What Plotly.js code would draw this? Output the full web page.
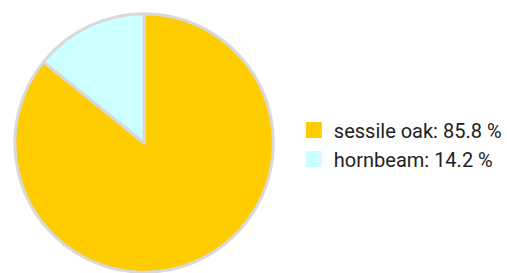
<!DOCTYPE html>
<html><head><meta charset="utf-8">
<script src="https://cdn.plot.ly/plotly-3.0.1.min.js"></script>
<style>html,body{margin:0;padding:0;background:#fff}#c{width:507px;height:273px}</style>
</head><body><div id="c"></div>
<script>
const species = ["sessile oak", "hornbeam"];
const shares = [85.8, 14.2];
const colors = ["#FFCC00", "#CCFFFF"];
const labels = species.map((s, i) => s + ": " + shares[i].toFixed(1) + " %");
const traces = [{
  type: "pie", labels: labels, values: shares, sort: false, direction: "clockwise", rotation: 0,
  marker: {colors: colors, line: {color: "#d9d9d9", width: 3}},
  textinfo: "none", hoverinfo: "none", showlegend: false,
  domain: {x: [15/507, 275/507], y: [0, 260/273]}
}];
// legend entries (proxies with no drawn points)
labels.forEach((l, i) => traces.push({
  type: "scatter", mode: "markers", x: [null], y: [null], name: l, showlegend: true,
  marker: {symbol: "square", size: 16, color: colors[i], line: {width: 0}}
}));
Plotly.newPlot("c", traces, {
  width: 507, height: 273, margin: {l: 0, r: 0, t: 0, b: 0},
  paper_bgcolor: "#fff", plot_bgcolor: "rgba(0,0,0,0)",
  xaxis: {visible: false}, yaxis: {visible: false},
  font: {family: "Roboto", color: "#222"},
  showlegend: true,
  legend: {x: 0.583, xanchor: "left", y: 0.471, yanchor: "middle", font: {size: 20, family: "Roboto", color: "#222"}, tracegroupgap: 0}
}, {staticPlot: true});
</script></body></html>
